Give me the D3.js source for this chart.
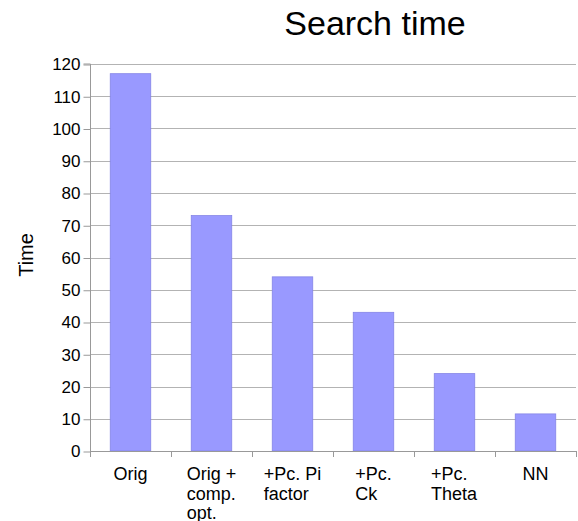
<!DOCTYPE html>
<html>
<head>
<meta charset="utf-8">
<script src="https://cdn.jsdelivr.net/npm/d3@7"></script>
<style>
    body { margin: 0; background: #fff; }
    text { font-family: "Liberation Sans", Arial, sans-serif; fill: #000; }
</style>
</head>
<body>
<div id="the_chart"></div>
<script>
var categories = [["Orig"], ["Orig +", "comp.", "opt."], ["+Pc. Pi", "factor"], ["+Pc.", "Ck"], ["+Pc.", "Theta"], ["NN"]];
var times = [117, 73, 54, 43, 24, 11.5];
var yticks = [0, 10, 20, 30, 40, 50, 60, 70, 80, 90, 100, 110, 120];

var w = 578;
var h = 521;
var plotLeft = 90, plotRight = 576, plotTop = 64, plotBottom = 451;

var svg = d3.select("#the_chart")
    .append("svg")
    .attr("width", w)
    .attr("height", h);

var yscale = d3.scaleLinear()
    .domain([0, 120])
    .range([plotBottom, plotTop]);

var xscale = d3.scaleBand()
    .domain(d3.range(times.length))
    .range([plotLeft, plotRight])
    .paddingInner(0.5)
    .paddingOuter(0.25);

// gridlines
svg.append("g")
    .selectAll("line")
    .data(yticks.slice(1))
    .enter().append("line")
    .attr("x1", plotLeft).attr("x2", plotRight)
    .attr("y1", function (d) { return Math.round(yscale(d)) + 0.5; })
    .attr("y2", function (d) { return Math.round(yscale(d)) + 0.5; })
    .attr("stroke", "#b3b3b3");

// bars
svg.selectAll("rect")
    .data(times)
    .enter().append("rect")
    .attr("x", function (d, i) { return xscale(i); })
    .attr("y", function (d) { return yscale(d); })
    .attr("width", xscale.bandwidth())
    .attr("height", function (d) { return plotBottom - yscale(d); })
    .attr("fill", "#9999ff")
    .attr("stroke", "#8585e6")
    .attr("stroke-width", 0.8);

// y axis
var yaxis = d3.axisLeft(yscale)
    .tickValues(yticks)
    .tickSize(7)
    .tickPadding(3);
var gy = svg.append("g")
    .attr("transform", "translate(" + (plotLeft + 0.5) + ",0.5)")
    .call(yaxis);
gy.select(".domain").attr("stroke", "#999").attr("d", "M-7," + (plotTop - 0.5) + "H0V" + (plotBottom - 0.5));
gy.selectAll(".tick line").attr("stroke", "#999");
gy.selectAll(".tick text").style("font-size", "17px").attr("fill", "#000");

// x axis line and separators
var step = xscale.step();
svg.append("line")
    .attr("x1", plotLeft).attr("x2", plotRight)
    .attr("y1", plotBottom + 0.5).attr("y2", plotBottom + 0.5)
    .attr("stroke", "#999");
svg.append("g")
    .selectAll("line")
    .data(d3.range(times.length + 1))
    .enter().append("line")
    .attr("x1", function (d) { return Math.round(plotLeft + d * step) + 0.5; })
    .attr("x2", function (d) { return Math.round(plotLeft + d * step) + 0.5; })
    .attr("y1", plotBottom).attr("y2", plotBottom + 6)
    .attr("stroke", "#999");

// category labels, lines left aligned, block centred under the bar
var labels = svg.append("g")
    .selectAll("g")
    .data(categories)
    .enter().append("g");
labels.each(function (lines, i) {
    var g = d3.select(this);
    var t = g.append("text")
        .style("font-size", "18px");
    lines.forEach(function (s, k) {
        t.append("tspan")
            .attr("x", 0)
            .attr("y", plotBottom + 29 + k * 19.5)
            .text(s);
    });
    var bw = t.node().getBBox().width;
    g.attr("transform", "translate(" + (xscale(i) + xscale.bandwidth() / 2 - bw / 2) + ",0)");
});

// title
svg.append("text")
    .attr("x", 375)
    .attr("y", 35)
    .attr("text-anchor", "middle")
    .style("font-size", "34px")
    .text("Search time");

// y label
svg.append("text")
    .attr("transform", "translate(33,255) rotate(-90)")
    .attr("text-anchor", "middle")
    .style("font-size", "20px")
    .text("Time");
</script>
</body>
</html>
